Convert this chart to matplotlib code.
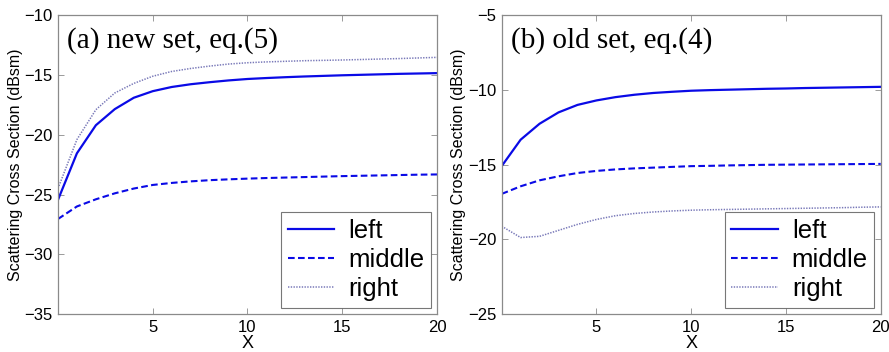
import matplotlib
matplotlib.use("Agg")
import matplotlib.pyplot as plt
import numpy as np

plt.rcParams["font.family"] = ["Liberation Sans", "DejaVu Sans"]

x = np.arange(0, 21)

# (a) new set, eq.(5)
a_left = [-25.45, -21.55, -19.2, -17.85, -16.9, -16.35, -16.0, -15.77, -15.6, -15.45,
          -15.33, -15.25, -15.18, -15.12, -15.07, -15.02, -14.98, -14.94, -14.9, -14.87, -14.84]
a_middle = [-27.05, -26.0, -25.4, -24.9, -24.5, -24.2, -24.03, -23.9, -23.8, -23.73,
            -23.67, -23.62, -23.58, -23.54, -23.5, -23.46, -23.43, -23.4, -23.37, -23.34, -23.32]
a_right = [-24.5, -20.4, -17.9, -16.5, -15.7, -15.1, -14.7, -14.45, -14.25, -14.08,
           -13.97, -13.9, -13.85, -13.8, -13.77, -13.74, -13.7, -13.66, -13.62, -13.57, -13.52]

# (b) old set, eq.(4)
b_left = [-15.1, -13.33, -12.26, -11.5, -11.0, -10.7, -10.48, -10.32, -10.2, -10.12,
          -10.05, -10.01, -9.98, -9.95, -9.92, -9.9, -9.87, -9.85, -9.83, -9.81, -9.79]
b_middle = [-16.96, -16.45, -16.05, -15.78, -15.56, -15.42, -15.32, -15.25, -15.2, -15.15,
            -15.1, -15.08, -15.05, -15.03, -15.01, -15.0, -14.99, -14.98, -14.97, -14.96, -14.95]
b_right = [-19.12, -19.88, -19.8, -19.4, -19.0, -18.67, -18.42, -18.27, -18.17, -18.1,
           -18.05, -18.02, -18.0, -17.98, -17.96, -17.94, -17.92, -17.9, -17.88, -17.85, -17.83]

labels = ["left", "middle", "right"]
titles = ["(a) new set, eq.(5)", "(b) old set, eq.(4)"]
ylims = [(-35, -10), (-25, -5)]
yticks = [[-35, -30, -25, -20, -15, -10], [-25, -20, -15, -10, -5]]
xticks = [5, 10, 15, 20]

fig = plt.figure(figsize=(8.89, 3.52), dpi=100)
positions = [[0.0652, 0.108, 0.4264, 0.8485], [0.5643, 0.108, 0.4264, 0.8485]]
data = [(a_left, a_middle, a_right), (b_left, b_middle, b_right)]

solid_c = "#0a0ae6"
dot_c = "#7878b8"
frame_c = "#8a8a8a"

for i in range(2):
    ax = fig.add_axes(positions[i])
    l, m, r = data[i]
    ax.plot(x, l, color=solid_c, lw=1.6, ls="-", label=labels[0])
    ax.plot(x, m, color=solid_c, lw=1.5, ls=(0, (3.2, 1.6)), label=labels[1])
    ax.plot(x, r, color=dot_c, lw=1.1, ls=(0, (0.9, 0.9)), label=labels[2])
    ax.set_xlim(0, 20)
    ax.set_ylim(*ylims[i])
    ax.set_xticks(xticks)
    ax.set_yticks(yticks[i])
    ax.tick_params(direction="in", top=True, right=True, length=4, width=0.6,
                   color=frame_c, labelsize=12, pad=4)
    for s in ax.spines.values():
        s.set_color(frame_c)
        s.set_linewidth(0.9)
    ax.set_ylabel("Scattering Cross Section (dBsm)", fontsize=11.5, labelpad=1)
    ax.set_xlabel("X", fontsize=13, labelpad=0)
    ax.text(0.025, 0.89, titles[i], transform=ax.transAxes,
            family="Liberation Serif", fontsize=21, va="baseline", ha="left")
    leg = ax.legend(loc="lower right", fontsize=18.5, frameon=True, fancybox=False,
                    borderaxespad=0.25, handlelength=1.8, handletextpad=0.55,
                    labelspacing=0.2, borderpad=0.25)
    leg.get_frame().set_edgecolor("#555555")
    leg.get_frame().set_linewidth(0.8)

fig.savefig("out.png", dpi=100)
